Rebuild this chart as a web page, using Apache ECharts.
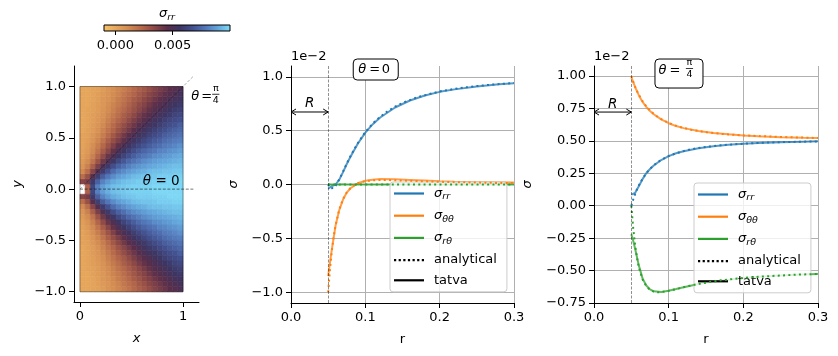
<!DOCTYPE html>
<html><head><meta charset="utf-8">
<script src="https://cdn.jsdelivr.net/npm/echarts@6/dist/echarts.min.js"></script>
<style>html,body{margin:0;padding:0;background:#fff}#c{width:838px;height:356px}</style>
</head><body><div id="c"></div>
<script>
// ===================== DATA =====================
// Left panel: sigma_rr field on the plate (units 1e-3), cell centres
const plateXc = [0.025,0.075,0.125,0.175,0.225,0.275,0.325,0.375,0.425,0.475,0.525,0.575,0.625,0.675,0.725,0.775,0.825,0.875,0.925,0.975];
const plateYcUpper = [0.025,0.075,0.125,0.175,0.225,0.275,0.325,0.375,0.425,0.475,0.525,0.575,0.625,0.675,0.725,0.775,0.825,0.875,0.925,0.975];
// rows from y=0.025 (next to the x axis) up to y=0.975; field is symmetric about y=0
const sigmaRRUpper = [
 [null,2.5,6.3,8.0,8.7,9.1,9.4,9.5,9.6,9.7,9.8,9.8,9.8,9.8,9.9,9.9,9.9,9.9,9.9,9.9],
 [3.5,3.9,5.8,7.2,8.1,8.6,9.0,9.2,9.4,9.5,9.6,9.7,9.7,9.7,9.8,9.8,9.8,9.9,9.9,9.9],
 [2.1,3.1,4.6,6.0,7.1,7.8,8.3,8.7,8.9,9.1,9.3,9.4,9.5,9.5,9.6,9.7,9.7,9.7,9.8,9.8],
 [1.2,2.1,3.5,4.8,5.9,6.8,7.5,8.0,8.3,8.6,8.8,9.0,9.1,9.3,9.4,9.4,9.5,9.5,9.6,9.6],
 [0.8,1.5,2.6,3.8,4.9,5.8,6.6,7.2,7.6,8.0,8.3,8.5,8.7,8.9,9.0,9.1,9.2,9.3,9.4,9.4],
 [0.6,1.1,1.9,3.0,4.0,4.9,5.7,6.4,6.9,7.4,7.7,8.0,8.3,8.5,8.7,8.8,8.9,9.0,9.1,9.2],
 [0.4,0.8,1.5,2.4,3.3,4.2,4.9,5.6,6.2,6.7,7.1,7.5,7.8,8.0,8.3,8.4,8.6,8.7,8.9,9.0],
 [0.3,0.6,1.2,1.9,2.7,3.5,4.3,5.0,5.6,6.1,6.6,7.0,7.3,7.6,7.8,8.1,8.2,8.4,8.5,8.7],
 [0.2,0.5,1.0,1.6,2.3,3.0,3.7,4.4,5.0,5.5,6.0,6.4,6.8,7.1,7.4,7.6,7.9,8.0,8.2,8.4],
 [0.2,0.4,0.8,1.3,1.9,2.6,3.2,3.8,4.4,5.0,5.5,5.9,6.3,6.7,7.0,7.2,7.5,7.7,7.9,8.0],
 [0.2,0.3,0.7,1.1,1.6,2.2,2.8,3.4,4.0,4.5,5.0,5.4,5.8,6.2,6.5,6.8,7.1,7.3,7.5,7.7],
 [0.1,0.3,0.5,0.9,1.4,1.9,2.4,3.0,3.5,4.0,4.5,5.0,5.4,5.8,6.1,6.4,6.7,7.0,7.2,7.4],
 [0.1,0.2,0.5,0.8,1.2,1.7,2.2,2.7,3.2,3.7,4.1,4.6,5.0,5.4,5.7,6.0,6.3,6.6,6.8,7.1],
 [0.1,0.2,0.4,0.7,1.0,1.5,1.9,2.4,2.8,3.3,3.8,4.2,4.6,5.0,5.3,5.7,6.0,6.3,6.5,6.7],
 [0.1,0.2,0.4,0.6,0.9,1.3,1.7,2.1,2.6,3.0,3.4,3.9,4.3,4.6,5.0,5.3,5.6,5.9,6.2,6.4],
 [0.1,0.2,0.3,0.5,0.8,1.1,1.5,1.9,2.3,2.7,3.1,3.5,3.9,4.3,4.7,5.0,5.3,5.6,5.9,6.1],
 [0.1,0.1,0.3,0.5,0.7,1.0,1.4,1.7,2.1,2.5,2.9,3.3,3.6,4.0,4.4,4.7,5.0,5.3,5.6,5.8],
 [0.1,0.1,0.2,0.4,0.7,0.9,1.2,1.6,1.9,2.3,2.7,3.0,3.4,3.7,4.1,4.4,4.7,5.0,5.3,5.5],
 [0.1,0.1,0.2,0.4,0.6,0.8,1.1,1.4,1.8,2.1,2.4,2.8,3.1,3.5,3.8,4.1,4.4,4.7,5.0,5.3],
 [0.1,0.1,0.2,0.3,0.5,0.8,1.0,1.3,1.6,1.9,2.3,2.6,2.9,3.2,3.6,3.9,4.2,4.5,4.7,5.0]
];
const plateExtX = [0, 1];
const plateExtY = [-1, 1];
const guideEnd = 1.1;
const colorbarRange = [-0.001, 0.010];
const colorbarTicks = [0, 0.005];
const plateXTicks = [0, 1];
const plateYTicks = [-1, -0.5, 0, 0.5, 1];
const rTicks = [0, 0.1, 0.2, 0.3];
const sigTicks0 = [-1, -0.5, 0, 0.5, 1];
const sigTicks45 = [-0.75, -0.5, -0.25, 0, 0.25, 0.5, 0.75, 1];
const holeR = 0.05;

// Right-hand panels, stresses in units of 1e-2
const rAna = [0.05,0.0525,0.055,0.0575,0.06,0.065,0.07,0.075,0.08,0.085,0.09,0.1,0.11,0.12,0.13,0.14,0.15,0.17,0.2,0.225,0.25,0.275,0.3];
const anaRR0 = [0,-0.034,-0.042,-0.033,-0.012,0.048,0.12,0.194,0.262,0.327,0.385,0.487,0.566,0.629,0.68,0.722,0.757,0.81,0.864,0.893,0.914,0.93,0.942];
const anaTT0 = [-1,-0.781,-0.611,-0.479,-0.376,-0.23,-0.135,-0.074,-0.034,-0.007,0.012,0.031,0.039,0.042,0.041,0.039,0.037,0.032,0.025,0.021,0.018,0.015,0.013];
const anaRT0 = [0,0,0,0,0,0,0,0,0,0,0,0,0,0,0,0,0,0,0,0,0,0,0];
const anaRR45 = [0,0.048,0.089,0.125,0.156,0.208,0.25,0.284,0.311,0.334,0.353,0.383,0.405,0.421,0.435,0.445,0.453,0.466,0.478,0.485,0.49,0.493,0.496];
const anaTT45 = [1.0,0.956,0.918,0.884,0.855,0.806,0.766,0.734,0.708,0.686,0.668,0.638,0.616,0.599,0.586,0.576,0.567,0.554,0.542,0.536,0.53,0.526,0.522];
const anaRT45 = [0,-0.173,-0.303,-0.399,-0.472,-0.567,-0.62,-0.649,-0.662,-0.667,-0.666,-0.656,-0.643,-0.628,-0.615,-0.603,-0.593,-0.575,-0.557,-0.546,-0.538,-0.531,-0.526];

const rTat = [0.05,0.0525,0.055,0.06,0.065,0.07,0.075,0.08,0.09,0.1,0.11,0.12,0.14,0.16,0.18,0.2,0.22,0.25,0.28,0.3];
const tatRR0 = [-0.04,-0.025,-0.015,0.0,0.045,0.115,0.19,0.258,0.38,0.482,0.56,0.622,0.715,0.78,0.826,0.86,0.883,0.91,0.93,0.94];
const tatTT0 = [-0.85,-0.72,-0.6,-0.38,-0.235,-0.14,-0.075,-0.035,0.012,0.035,0.045,0.05,0.048,0.042,0.036,0.03,0.026,0.022,0.02,0.018];
const tatRT0 = [0.0,0.002,0.001,0.0,0.001,0.002,0.001,0.0,0.001,0.001,0.0,0.001,0.0,0.001,0.0,0.001,0.0,0.0,0.001,0.0];
const tatRR45 = [0.085,0.09,0.098,0.15,0.205,0.25,0.283,0.31,0.352,0.382,0.404,0.42,0.443,0.458,0.469,0.477,0.483,0.489,0.494,0.496];
const tatTT45 = [0.99,0.955,0.915,0.852,0.8,0.762,0.73,0.705,0.665,0.636,0.614,0.598,0.576,0.561,0.55,0.541,0.535,0.528,0.523,0.521];
const tatRT45 = [-0.22,-0.27,-0.33,-0.46,-0.56,-0.615,-0.645,-0.66,-0.665,-0.655,-0.642,-0.628,-0.603,-0.585,-0.57,-0.557,-0.548,-0.538,-0.53,-0.526];

// annotation anchors (data coordinates)
const leftLabel0 = [0.61, 0.073];
const leftLabel45 = [1.08, 0.905];
const arrowY0 = 0.673, arrowY45 = 0.722;
const box0 = [0.114, 1.0675], box45 = [0.1138, 1.019];

// ===================== STYLE =====================
const FONT = 'DejaVu Sans';
const colormap = ['#f7c46a','#e6a65c','#d18a52','#b5684a','#8d4846','#5a2e4a','#3d3562','#42508e','#5276b8','#64a6dc','#7fdcf7'];
const C = ['#1f77b4', '#ff7f0e', '#2ca02c'];
const seriesNames = ['σrr', 'σθθ', 'σrθ'];
const legendRich = {
  s: {fontSize: 13, fontStyle: 'italic', fontFamily: FONT, color: '#000'},
  b: {fontSize: 9.5, fontStyle: 'italic', fontFamily: FONT, color: '#000', padding: [7, 0, 0, 0]}
};
const labelMap = {'σrr': '{s|σ}{b|rr}', 'σθθ': '{s|σ}{b|θθ}', 'σrθ': '{s|σ}{b|rθ}', 'analytical': 'analytical', 'tatva': 'tatva'};
const minus = (v, d) => (v < 0 ? '\u2212' : '') + Math.abs(v).toFixed(d);

// ===================== BUILD =====================
const cells = [];
sigmaRRUpper.forEach((row, j) => {
  row.forEach((v, i) => {
    if (v === null) return;
    cells.push([plateXc[i], plateYcUpper[j], v]);
    cells.push([plateXc[i], -plateYcUpper[j], v]);
  });
});
const halfX = (plateXc[1] - plateXc[0]) / 2, halfY = (plateYcUpper[1] - plateYcUpper[0]) / 2;
const zip = (a, b) => a.map((x, i) => [x, b[i]]);

function axisBase(grid) {
  return {
    gridIndex: grid, type: 'value',
    axisLine: {show: true, onZero: false, lineStyle: {color: '#000', width: 1}},
    axisTick: {show: true, length: 5, lineStyle: {color: '#000', width: 1}},
    axisLabel: {color: '#000', fontSize: 13, fontFamily: FONT, margin: 8},
    splitLine: {show: false},
    nameTextStyle: {color: '#000', fontSize: 13, fontFamily: FONT},
    nameMoveOverlap: false
  };
}
function withTicks(ax, vals, fmt) {
  ax.axisTick.customValues = vals;
  ax.axisLabel.customValues = vals;
  ax.axisLabel.formatter = fmt;
  return ax;
}

const xAxes = [], yAxes = [];
// left panel
let ax = withTicks(axisBase(0), plateXTicks, v => String(v));
Object.assign(ax, {min: -0.058, max: 1.155, name: 'x', nameLocation: 'middle', nameGap: 30});
ax.nameTextStyle.fontStyle = 'italic';
xAxes.push(ax);
ax = withTicks(axisBase(0), plateYTicks, v => minus(v, 1));
Object.assign(ax, {min: -1.1, max: 1.2, name: 'y', nameLocation: 'middle', nameGap: 50});
ax.nameTextStyle.fontStyle = 'italic';
yAxes.push(ax);
// middle & right panels
[[1, [-1.1, 1.1], sigTicks0, 1, 51], [2, [-0.75, 1.077], sigTicks45, 2, 60]].forEach(([g, yr, yt, dec, gap]) => {
  const xa = withTicks(axisBase(g), rTicks, v => v.toFixed(1));
  Object.assign(xa, {min: 0, max: 0.3, name: 'r', nameLocation: 'middle', nameGap: 30});
  xa.splitLine = {show: true, lineStyle: {color: '#b0b0b0', width: 1}};
  xAxes.push(xa);
  const ya = withTicks(axisBase(g), yt, v => minus(v, dec));
  Object.assign(ya, {min: yr[0], max: yr[1], name: 'σ', nameLocation: 'middle', nameGap: gap});
  ya.nameTextStyle.fontStyle = 'italic';
  ya.splitLine = {show: true, lineStyle: {color: '#b0b0b0', width: 1}};
  yAxes.push(ya);
});
// colorbar
ax = withTicks(axisBase(3), colorbarTicks, v => v.toFixed(3));
Object.assign(ax, {min: colorbarRange[0], max: colorbarRange[1]});
ax.axisLine.show = false;
ax.axisTick.length = 4;
ax.axisLabel.margin = 8;
xAxes.push(ax);
yAxes.push({gridIndex: 3, type: 'value', min: 0, max: 1, show: false});

const series = [];
// 0: heat map cells
series.push({
  type: 'custom', xAxisIndex: 0, yAxisIndex: 0, data: cells, encode: {x: 0, y: 1}, clip: false, silent: true, z: 1,
  renderItem: (p, api) => {
    const x = api.value(0), y = api.value(1);
    const a = api.coord([x - halfX, y + halfY]), b = api.coord([x + halfX, y - halfY]);
    const col = api.visual('color');
    return {type: 'rect', shape: {x: a[0], y: a[1], width: b[0] - a[0], height: b[1] - a[1]}, style: {fill: col, stroke: col, lineWidth: 0.6}};
  }
});
// plate outline
series.push({
  type: 'custom', xAxisIndex: 0, yAxisIndex: 0, data: [[plateExtX[0], plateExtY[0]]], clip: false, silent: true, z: 2,
  renderItem: (p, api) => {
    const a = api.coord([plateExtX[0], plateExtY[1]]), b = api.coord([plateExtX[1], plateExtY[0]]);
    return {type: 'rect', shape: {x: a[0], y: a[1], width: b[0] - a[0], height: b[1] - a[1]}, style: {fill: null, stroke: 'rgba(0,0,0,0.55)', lineWidth: 0.7}};
  }
});
// guide rays
series.push({type: 'line', xAxisIndex: 0, yAxisIndex: 0, data: [[0, 0], [guideEnd, 0]], symbol: 'none', silent: true, z: 3,
  lineStyle: {color: 'rgba(0,0,0,0.6)', width: 0.9, type: [3, 1.6]}});
series.push({type: 'line', xAxisIndex: 0, yAxisIndex: 0, data: [[0, 0], [guideEnd, guideEnd]], symbol: 'none', silent: true, z: 3,
  lineStyle: {color: 'rgba(0,0,0,0.35)', width: 0.9, type: [3, 1.6]}});

const txt = (x, y, s, extra) => ({type: 'text', x: x, y: y, style: Object.assign({text: s, fontSize: 13, fontFamily: FONT, fill: '#000', align: 'left', verticalAlign: 'middle'}, extra || {})});
// theta = pi/4 ; x = start of theta glyph, yc = text centre line
function thetaFrac(x, yc, eqDx, fracDx) {
  const by = yc - 2;
  return [
    txt(x, yc, 'θ', {fontStyle: 'italic'}),
    txt(x + eqDx, yc, '='),
    {type: 'line', shape: {x1: x + fracDx - 3.6, y1: by, x2: x + fracDx + 3.6, y2: by}, style: {stroke: '#000', lineWidth: 0.8}},
    txt(x + fracDx, by - 0.6, 'π', {fontSize: 9.5, align: 'center', verticalAlign: 'bottom'}),
    txt(x + fracDx, by + 1.2, '4', {fontSize: 9.5, align: 'center', verticalAlign: 'top'})
  ];
}
// left panel labels
series.push({
  type: 'custom', xAxisIndex: 0, yAxisIndex: 0, data: [leftLabel0, leftLabel45], clip: false, silent: true, z: 5,
  renderItem: (p, api) => {
    const pt = api.coord([api.value(0), api.value(1)]);
    if (p.dataIndex === 0) {
      return {type: 'text', x: pt[0], y: pt[1], style: {text: '{i|θ} = 0', rich: {i: {fontStyle: 'italic', fontSize: 13.5, fontFamily: FONT}}, fontSize: 13.5, fontFamily: FONT, fill: '#000', align: 'left', verticalAlign: 'middle'}};
    }
    return {type: 'group', children: thetaFrac(pt[0], pt[1], 10, 24.5)};
  }
});
// colorbar
series.push({
  type: 'custom', xAxisIndex: 3, yAxisIndex: 3, data: [[colorbarRange[0], 0]], clip: false, silent: true,
  renderItem: (p, api) => {
    const a = api.coord([colorbarRange[0], 1]), b = api.coord([colorbarRange[1], 0]);
    const stops = colormap.map((c, i) => ({offset: i / (colormap.length - 1), color: c}));
    return {type: 'rect', shape: {x: a[0], y: a[1], width: b[0] - a[0], height: b[1] - a[1]},
      style: {fill: new echarts.graphic.LinearGradient(0, 0, 1, 0, stops), stroke: '#000', lineWidth: 1}};
  }
});

// line panels
const panels = [
  {g: 1, tat: [tatRR0, tatTT0, tatRT0], ana: [anaRR0, anaTT0, anaRT0], arrowY: arrowY0, box: box0, frac: false},
  {g: 2, tat: [tatRR45, tatTT45, tatRT45], ana: [anaRR45, anaTT45, anaRT45], arrowY: arrowY45, box: box45, frac: true}
];
panels.forEach(P => {
  P.tat.forEach((vals, k) => {
    const s = {type: 'line', name: seriesNames[k], xAxisIndex: P.g, yAxisIndex: P.g, data: zip(rTat, vals), symbol: 'none',
      color: C[k], lineStyle: {width: 2, opacity: 0.75}, z: 3, silent: true};
    if (k === 0) s.markLine = {silent: true, symbol: 'none', data: [{xAxis: holeR}], label: {show: false},
      lineStyle: {color: 'rgba(0,0,0,0.55)', width: 0.8, type: [3, 1.5]}};
    series.push(s);
  });
  P.ana.forEach((vals, k) => {
    series.push({type: 'line', name: seriesNames[k] + ' analytical', xAxisIndex: P.g, yAxisIndex: P.g, data: zip(rAna, vals), symbol: 'none',
      color: C[k], lineStyle: {width: 2, type: [2, 3.3]}, z: 4, silent: true});
  });
  series.push({
    type: 'custom', xAxisIndex: P.g, yAxisIndex: P.g, data: [[0, P.arrowY]], clip: false, silent: true, z: 6,
    renderItem: (p, api) => {
      const a0 = api.coord([0, P.arrowY]), a1 = api.coord([holeR, P.arrowY]);
      const h = 5, w = 3;
      const ch = [
        {type: 'line', shape: {x1: a0[0], y1: a0[1], x2: a1[0], y2: a1[1]}, style: {stroke: '#000', lineWidth: 1}},
        {type: 'polyline', shape: {points: [[a0[0] + h, a0[1] - w], [a0[0], a0[1]], [a0[0] + h, a0[1] + w]]}, style: {stroke: '#000', fill: null, lineWidth: 1}},
        {type: 'polyline', shape: {points: [[a1[0] - h, a1[1] - w], [a1[0], a1[1]], [a1[0] - h, a1[1] + w]]}, style: {stroke: '#000', fill: null, lineWidth: 1}},
        txt((a0[0] + a1[0]) / 2, a0[1] - 1, 'R', {fontStyle: 'italic', fontSize: 13.5, align: 'center', verticalAlign: 'bottom'})
      ];
      const bc = api.coord(P.box);
      if (!P.frac) {
        ch.push({type: 'rect', shape: {x: bc[0] - 22.5, y: bc[1] - 10.5, width: 45, height: 21, r: 4}, style: {fill: '#fff', stroke: '#000', lineWidth: 1}});
        const sx = bc[0] - 17.5, sy = bc[1] + 0.5;
        ch.push(txt(sx, sy, 'θ', {fontStyle: 'italic'}));
        ch.push(txt(sx + 11, sy, '='));
        ch.push(txt(sx + 23.5, sy, '0'));
      } else {
        ch.push({type: 'rect', shape: {x: bc[0] - 24, y: bc[1] - 14.5, width: 48, height: 29, r: 4}, style: {fill: '#fff', stroke: '#000', lineWidth: 1}});
        thetaFrac(bc[0] - 20.5, bc[1] - 3, 11, 31).forEach(e => ch.push(e));
      }
      return {type: 'group', children: ch};
    }
  });
});
// legend proxies
series.push({type: 'line', name: 'analytical', xAxisIndex: 1, yAxisIndex: 1, data: [], color: '#000', symbol: 'none', lineStyle: {type: [2, 3.3], width: 2}});
series.push({type: 'line', name: 'tatva', xAxisIndex: 1, yAxisIndex: 1, data: [], color: '#000', symbol: 'none', lineStyle: {width: 2}});

const solidIcon = 'path://M0,0H30V2.2H0Z';
const dotIcon = 'path://M0,0h2.2v2.2h-2.2z M4.6,0h2.2v2.2h-2.2z M9.2,0h2.2v2.2h-2.2z M13.8,0h2.2v2.2h-2.2z M18.4,0h2.2v2.2h-2.2z M23,0h2.2v2.2h-2.2z M27.6,0h2.2v2.2h-2.2z';
const legendData = [
  {name: 'σrr', icon: solidIcon}, {name: 'σθθ', icon: solidIcon}, {name: 'σrθ', icon: solidIcon},
  {name: 'analytical', icon: dotIcon}, {name: 'tatva', icon: solidIcon}
];
function mkLegend(left, top) {
  return {
    data: legendData, orient: 'vertical', left: left, top: top, align: 'left', selectedMode: false,
    itemWidth: 30, itemHeight: 15, itemGap: 7.2, padding: [5, 10, 5, 4],
    backgroundColor: 'rgba(255,255,255,0.8)', borderColor: '#cccccc', borderWidth: 1, borderRadius: 3,
    itemStyle: {borderWidth: 0}, symbolKeepAspect: true,
    formatter: n => labelMap[n],
    textStyle: {fontSize: 13, fontFamily: FONT, color: '#000', padding: [0, 0, 0, 5], rich: legendRich}
  };
}

const option = {
  animation: false,
  backgroundColor: '#fff',
  grid: [
    {left: 74, top: 66, width: 125, height: 236},
    {left: 291, top: 66, width: 223, height: 237},
    {left: 594, top: 66, width: 224, height: 237},
    {left: 104, top: 25, width: 126, height: 6}
  ],
  xAxis: xAxes,
  yAxis: yAxes,
  visualMap: {type: 'continuous', show: false, seriesIndex: 0, dimension: 2,
    min: colorbarRange[0] * 1000, max: colorbarRange[1] * 1000, inRange: {color: colormap}},
  legend: [mkLegend(390, 182), mkLegend(694, 183)],
  graphic: [
    {type: 'text', x: 291, y: 57, style: {text: '1e\u22122', fontSize: 13, fontFamily: FONT, fill: '#000', align: 'left', verticalAlign: 'middle'}},
    {type: 'text', x: 594, y: 57, style: {text: '1e\u22122', fontSize: 13, fontFamily: FONT, fill: '#000', align: 'left', verticalAlign: 'middle'}},
    {type: 'text', x: 167, y: 14, style: {text: '{s|σ}{b|rr}', rich: legendRich, fontSize: 13, fontFamily: FONT, fill: '#000', align: 'center', verticalAlign: 'middle'}}
  ],
  series: series
};
const chart = echarts.init(document.getElementById('c'), null, {renderer: 'canvas'});
chart.setOption(option);
</script>
</body></html>
